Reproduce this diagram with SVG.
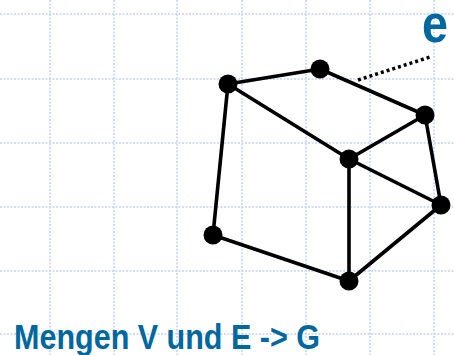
<svg xmlns="http://www.w3.org/2000/svg" width="454" height="355" viewBox="0 0 454 355">
<style>
.grid line{stroke:#c4d2f8;stroke-width:1.5;stroke-dasharray:2 1.5}
.edge{stroke:#000;stroke-width:3.6;fill:none;stroke-linecap:round}
.node{fill:#000}
.lbl{font-family:"Liberation Sans",Arial,sans-serif;font-weight:bold;fill:#00689e}
</style>
<rect width="454" height="355" fill="#fff"/>
<g class="grid">
<line x1="0" y1="14" x2="454" y2="14"/>
<line x1="0" y1="79" x2="454" y2="79"/>
<line x1="0" y1="143" x2="454" y2="143"/>
<line x1="0" y1="207" x2="454" y2="207"/>
<line x1="0" y1="271" x2="454" y2="271"/>
<line x1="0" y1="334" x2="454" y2="334"/>
<line x1="50" y1="0" x2="50" y2="355"/>
<line x1="114" y1="0" x2="114" y2="355"/>
<line x1="177" y1="0" x2="177" y2="355"/>
<line x1="242" y1="0" x2="242" y2="355"/>
<line x1="306" y1="0" x2="306" y2="355"/>
<line x1="370" y1="0" x2="370" y2="355"/>
<line x1="434" y1="0" x2="434" y2="355"/>
</g>
<g id="connectors">
<line class="edge" x1="228" y1="84" x2="320" y2="69"/>
<line class="edge" x1="228" y1="84" x2="349" y2="159"/>
<line class="edge" x1="228" y1="84" x2="213" y2="235"/>
<line class="edge" x1="320" y1="69" x2="425" y2="115"/>
<line class="edge" x1="425" y1="115" x2="349" y2="159"/>
<line class="edge" x1="425" y1="115" x2="441" y2="205"/>
<line class="edge" x1="349" y1="159" x2="441" y2="205"/>
<line class="edge" x1="349" y1="159" x2="349" y2="281"/>
<line class="edge" x1="213" y1="235" x2="349" y2="281"/>
<line class="edge" x1="349" y1="281" x2="441" y2="205"/>
<line x1="358" y1="80" x2="430" y2="57" stroke="#000" stroke-width="3.5" stroke-dasharray="3 3"/>
</g>
<g id="n1"><circle class="node" cx="228" cy="84" r="9.5"/></g>
<g id="n2"><circle class="node" cx="320" cy="69" r="9.5"/></g>
<g id="n3"><circle class="node" cx="425" cy="115" r="9.5"/></g>
<g id="n4"><circle class="node" cx="349" cy="159" r="9.5"/></g>
<g id="n5"><circle class="node" cx="441" cy="205" r="9.5"/></g>
<g id="n6"><circle class="node" cx="213" cy="235" r="9.5"/></g>
<g id="n7"><circle class="node" cx="349" cy="281" r="9.5"/></g>
<g id="label-e"><text class="lbl" x="422" y="42" font-size="54" textLength="26" lengthAdjust="spacingAndGlyphs">e</text></g>
<g id="title"><text class="lbl" x="14" y="349" font-size="35" textLength="306" lengthAdjust="spacingAndGlyphs">Mengen V und E -&gt; G</text></g>
</svg>
